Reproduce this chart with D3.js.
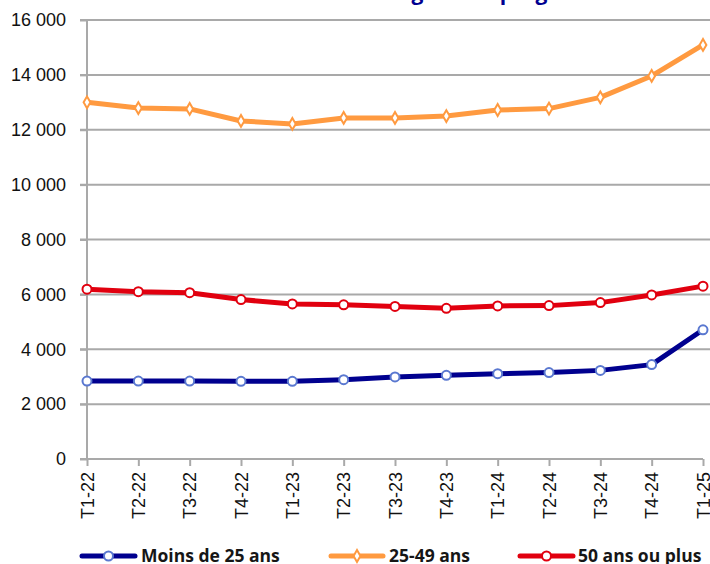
<!DOCTYPE html>
<html><head><meta charset="utf-8">
<script src="https://cdn.jsdelivr.net/npm/d3@7"></script>
<style>body{margin:0;background:#fff}svg{display:block}</style>
</head><body>
<svg id="c" width="710" height="564"></svg>
<script>
const categories = ["T1-22","T2-22","T3-22","T4-22","T1-23","T2-23","T3-23","T4-23","T1-24","T2-24","T3-24","T4-24","T1-25"];
const moins25 = [2840,2840,2840,2830,2830,2890,2990,3050,3110,3150,3230,3440,4710];
const de25a49 = [13000,12790,12760,12320,12210,12430,12430,12500,12720,12770,13180,13960,15090];
const plus50 = [6190,6100,6060,5810,5650,5620,5560,5490,5580,5590,5700,5980,6300];
const yTicks = [0,2000,4000,6000,8000,10000,12000,14000,16000];
const seriesNames = ["Moins de 25 ans","25-49 ans","50 ans ou plus"];
const titleText = "Évolution selon l'âge et en progression";

const svg = d3.select("#c");
const x = d3.scalePoint().domain(categories).range([87,703]);
const y = d3.scaleLinear().domain([0,16000]).range([459,20]);
const fmt = v => d3.format(",")(v).replace(/,/g," ");
const grid = "#a9a9a9";

// title (cut off at top, only descenders visible)
svg.append("text").attr("x",422).attr("y",0).attr("text-anchor","middle")
  .attr("font-family","Open Sans, sans-serif").attr("font-weight","bold")
  .attr("font-size",21).attr("fill","#000091").text(titleText);

// gridlines
svg.append("g").selectAll("line").data(yTicks.filter(d=>d>0)).join("line")
  .attr("x1",80).attr("x2",710).attr("y1",d=>y(d)).attr("y2",d=>y(d))
  .attr("stroke",grid).attr("stroke-width",2);

// y axis
const ya = svg.append("g").attr("transform","translate(87,0)")
  .call(d3.axisLeft(y).tickValues(yTicks).tickFormat(fmt).tickSize(7).tickPadding(14));
ya.select(".domain").attr("stroke",grid).attr("stroke-width",2).attr("d","M0,20V459");
ya.selectAll(".tick line").attr("stroke",grid).attr("stroke-width",2);
ya.selectAll("text").attr("font-family","Liberation Sans, Arial, sans-serif").attr("font-size",18).attr("fill","#111");

// x axis
const xa = svg.append("g").attr("transform","translate(0,459)")
  .call(d3.axisBottom(x).tickSize(7).tickSizeOuter(0));
xa.select(".domain").attr("stroke",grid).attr("stroke-width",2).attr("d","M80,0H703");
xa.selectAll(".tick line").attr("stroke",grid).attr("stroke-width",2);
xa.selectAll("text").attr("font-family","Liberation Sans, Arial, sans-serif").attr("font-size",18).attr("fill","#111")
  .attr("transform","rotate(-90)").attr("text-anchor","end").attr("dy","0.35em").attr("x",-13).attr("y",0);

const series = [
  {name:seriesNames[0], vals:moins25, line:"#00008f", mark:"#5a78d0", shape:"circle"},
  {name:seriesNames[1], vals:de25a49, line:"#ff9a40", mark:"#ff9a40", shape:"diamond"},
  {name:seriesNames[2], vals:plus50, line:"#e1000f", mark:"#e1000f", shape:"circle"}
];
const lineGen = d3.line().x((d,i)=>x(categories[i])).y(d=>y(d));
function marker(g, s, cx, cy){
  if(s.shape==="circle"){
    g.append("circle").attr("cx",cx).attr("cy",cy).attr("r",4.5)
      .attr("fill","#fff").attr("stroke",s.mark).attr("stroke-width",2);
  } else {
    g.append("path").attr("d",d3.symbol(d3.symbolDiamond,40)()).attr("transform",`translate(${cx},${cy})`)
      .attr("fill","#fff").attr("stroke",s.mark).attr("stroke-width",2);
  }
}
series.forEach(s=>{
  const g = svg.append("g");
  g.append("path").datum(s.vals).attr("d",lineGen).attr("fill","none")
    .attr("stroke",s.line).attr("stroke-width",5).attr("stroke-linejoin","round");
  s.vals.forEach((v,i)=>marker(g,s,x(categories[i]),y(v)));
});

// legend
const leg = [{x1:82,x2:135,tx:141},{x1:331,x2:383,tx:389},{x1:520,x2:573,tx:578}];
series.forEach((s,i)=>{
  const L = leg[i], g = svg.append("g");
  g.append("line").attr("x1",L.x1).attr("x2",L.x2).attr("y1",556).attr("y2",556)
    .attr("stroke",s.line).attr("stroke-width",5).attr("stroke-linecap","round");
  marker(g,s,(L.x1+L.x2)/2,556);
  g.append("text").attr("x",L.tx).attr("y",562).attr("font-family","Open Sans, sans-serif")
    .attr("font-weight","bold").attr("font-size",17.5).attr("fill","#161616").text(s.name);
});
</script>
</body></html>
